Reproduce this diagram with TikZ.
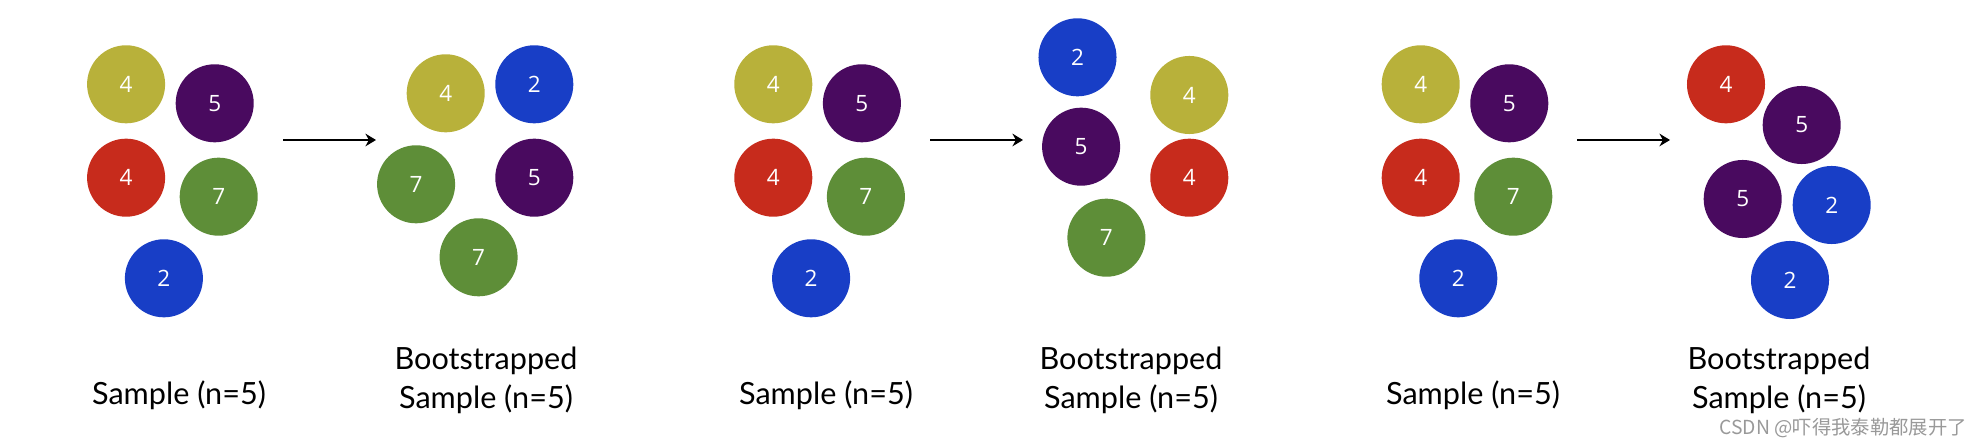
\documentclass[tikz,border=0pt]{standalone}
\usepackage{fontspec}
\setmainfont{Lato}
\newfontfamily\numfont{Open Sans}
\newfontfamily\cjkfont{Noto Sans CJK SC}
\usetikzlibrary{arrows.meta}
\definecolor{ballyellow}{HTML}{B8B13A}
\definecolor{ballpurple}{HTML}{490A5F}
\definecolor{ballred}{HTML}{C72B1C}
\definecolor{ballgreen}{HTML}{5E8E38}
\definecolor{ballblue}{HTML}{183EC6}
\begin{document}
\begin{tikzpicture}[x=0.01cm,y=-0.01cm,line width=0.6pt,>={Stealth[length=3pt,width=3.6pt]},
  ball/.style={circle,minimum size=0.78cm,inner sep=0pt,text=white,font=\numfont\fontsize{6.4}{6.4}\selectfont},
  lbl/.style={font=\fontsize{8.7}{10.9}\selectfont,align=center}]
  \useasboundingbox (0,0) rectangle (1984,446);
  % muestra 1
  \node[ball,fill=ballyellow] (s1y) at (126.1,84.3){4};
  \node[ball,fill=ballpurple] (s1p) at (214.7,103.3){5};
  \node[ball,fill=ballred]    (s1r) at (126.1,177.7){4};
  \node[ball,fill=ballgreen]  (s1g) at (218.7,196.7){7};
  \node[ball,fill=ballblue]   (s1b) at (163.9,278.3){2};
  \node[lbl] (s1lbl) at (179,395){Sample (n=5)};
  \coordinate (a1a) at (283,140);
  \coordinate (a1b) at (376,140);
  \draw[->] (a1a) -- (a1b);
  % bootstrap 1
  \node[ball,fill=ballyellow] (b1y) at (445.7,93.3){4};
  \node[ball,fill=ballblue]   (b1b) at (534.3,84.3){2};
  \node[ball,fill=ballgreen]  (b1g) at (416.1,184.3){7};
  \node[ball,fill=ballpurple] (b1p) at (534.3,177.7){5};
  \node[ball,fill=ballgreen]  (b1h) at (478.6,257.3){7};
  \node[lbl] (b1lbl) at (486,380.5){Bootstrapped\\Sample (n=5)};
  % muestra 2
  \node[ball,fill=ballyellow] (s2y) at (773.3,84.3){4};
  \node[ball,fill=ballpurple] (s2p) at (861.9,103.3){5};
  \node[ball,fill=ballred]    (s2r) at (773.3,177.7){4};
  \node[ball,fill=ballgreen]  (s2g) at (865.9,196.7){7};
  \node[ball,fill=ballblue]   (s2b) at (811.1,278.3){2};
  \node[lbl] (s2lbl) at (826,395){Sample (n=5)};
  \coordinate (a2a) at (930,140);
  \coordinate (a2b) at (1023,140);
  \draw[->] (a2a) -- (a2b);
  % bootstrap 2
  \node[ball,fill=ballblue]   (b2b) at (1077.5,57.3){2};
  \node[ball,fill=ballyellow] (b2y) at (1189.3,95){4};
  \node[ball,fill=ballpurple] (b2p) at (1081.1,146.7){5};
  \node[ball,fill=ballred]    (b2r) at (1189.3,177.7){4};
  \node[ball,fill=ballgreen]  (b2g) at (1106.4,237.7){7};
  \node[lbl] (b2lbl) at (1131,380.5){Bootstrapped\\Sample (n=5)};
  % muestra 3
  \node[ball,fill=ballyellow] (s3y) at (1420.7,84.3){4};
  \node[ball,fill=ballpurple] (s3p) at (1509.3,103.3){5};
  \node[ball,fill=ballred]    (s3r) at (1420.7,177.7){4};
  \node[ball,fill=ballgreen]  (s3g) at (1513.3,196.7){7};
  \node[ball,fill=ballblue]   (s3b) at (1458.3,278.3){2};
  \node[lbl] (s3lbl) at (1473,395){Sample (n=5)};
  \coordinate (a3a) at (1577,140);
  \coordinate (a3b) at (1670,140);
  \draw[->] (a3a) -- (a3b);
  % bootstrap 3
  \node[ball,fill=ballred]    (b3r) at (1726,84.3){4};
  \node[ball,fill=ballpurple] (b3p) at (1801.7,125){5};
  \node[ball,fill=ballpurple] (b3q) at (1742.7,199){5};
  \node[ball,fill=ballblue]   (b3b) at (1831.7,205){2};
  \node[ball,fill=ballblue]   (b3c) at (1790,280){2};
  \node[lbl] (b3lbl) at (1779,380.5){Bootstrapped\\Sample (n=5)};
  % marca de agua
  \node[anchor=east,text=black!40,font=\cjkfont\fontsize{5.5}{5.5}\selectfont,inner sep=0pt] (wm) at (1968,428){CSDN @吓得我泰勒都展开了};
\end{tikzpicture}
\end{document}
